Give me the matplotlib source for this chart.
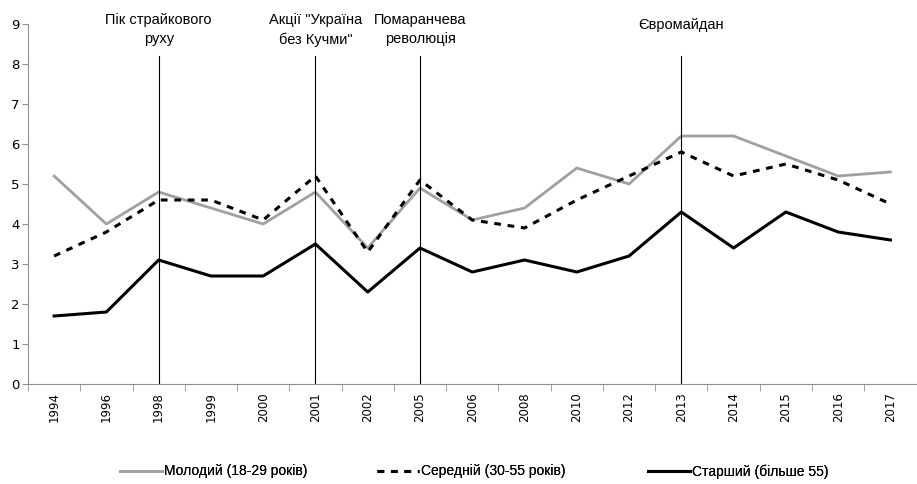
import matplotlib.pyplot as plt
import numpy as np
from matplotlib import font_manager

# Years and series
years = ['1994', '1996', '1998', '1999', '2000', '2001', '2002', '2005', '2006',
         '2008', '2010', '2012', '2013', '2014', '2015', '2016', '2017']
young = [5.2, 4.0, 4.8, 4.4, 4.0, 4.8, 3.4, 4.9, 4.1, 4.4, 5.4, 5.0, 6.2, 6.2, 5.7, 5.2, 5.3]
middle = [3.2, 3.8, 4.6, 4.6, 4.1, 5.2, 3.3, 5.1, 4.1, 3.9, 4.6, 5.2, 5.8, 5.2, 5.5, 5.1, 4.5]
old = [1.7, 1.8, 3.1, 2.7, 2.7, 3.5, 2.3, 3.4, 2.8, 3.1, 2.8, 3.2, 4.3, 3.4, 4.3, 3.8, 3.6]

# Events marked with vertical lines
event_years = ['1998', '2001', '2005', '2013']
event_labels = ['Пік страйкового\nруху', 'Акції "Україна\nбез Кучми"',
                'Помаранчева\nреволюція', 'Євромайдан']

names = [f.name for f in font_manager.fontManager.ttflist]
narrow = 'Liberation Sans Narrow' if 'Liberation Sans Narrow' in names else 'Liberation Sans'

plt.rcParams['font.family'] = ['DejaVu Sans']

fig = plt.figure(figsize=(9.17, 4.84), dpi=100)
ax = fig.add_axes([0.0305, 0.2066, 0.969, 0.7438])

x = np.arange(len(years))
l1, = ax.plot(x, young, color='#a0a0a0', lw=2.0, label='Молодий (18-29 років)')
l2, = ax.plot(x, middle, color='black', lw=2.2, linestyle=(0, (2.2, 2.2)), label='Середній (30-55 років)')
l3, = ax.plot(x, old, color='black', lw=2.2, label='Старший (більше 55)')

# event lines and labels
for yr, lab in zip(event_years, event_labels):
    i = years.index(yr)
    ax.plot([i, i], [0, 8.2], color='black', lw=0.8)
    ax.text(i, 9.27 if '\n' in lab else 9.15, lab, ha='center', va='top', fontsize=10.5,
            family=[narrow, 'DejaVu Sans'], linespacing=1.45, clip_on=False)

ax.set_xlim(-0.5, len(years) - 0.5)
ax.set_ylim(0, 9)
ax.set_yticks(range(0, 10))
ax.set_xticks(x)
ax.set_xticklabels(years, rotation=90, fontsize=8.5)
ax.set_xticks(np.arange(-0.5, len(years), 1), minor=True)
ax.tick_params(axis='x', which='major', length=0, pad=6)
ax.tick_params(axis='x', which='minor', length=5, color='#909090')
ax.tick_params(axis='y', length=4, color='#909090', labelsize=9.5, pad=2)

for s in ['top', 'right']:
    ax.spines[s].set_visible(False)
ax.spines['left'].set_color('#909090')
ax.spines['bottom'].set_color('#909090')

# legend entries placed one by one like the original
for line, xpx in zip([l1, l2, l3], [120, 377, 648]):
    leg = fig.legend(handles=[line], loc='center left', bbox_to_anchor=(xpx / 917, 0.026),
                     frameon=False, prop={'family': [narrow, 'DejaVu Sans'], 'size': 10},
                     handlelength=3.0, handletextpad=0.15, borderpad=0, borderaxespad=0)
    fig.add_artist(leg)

fig.savefig('out.png', dpi=100)
